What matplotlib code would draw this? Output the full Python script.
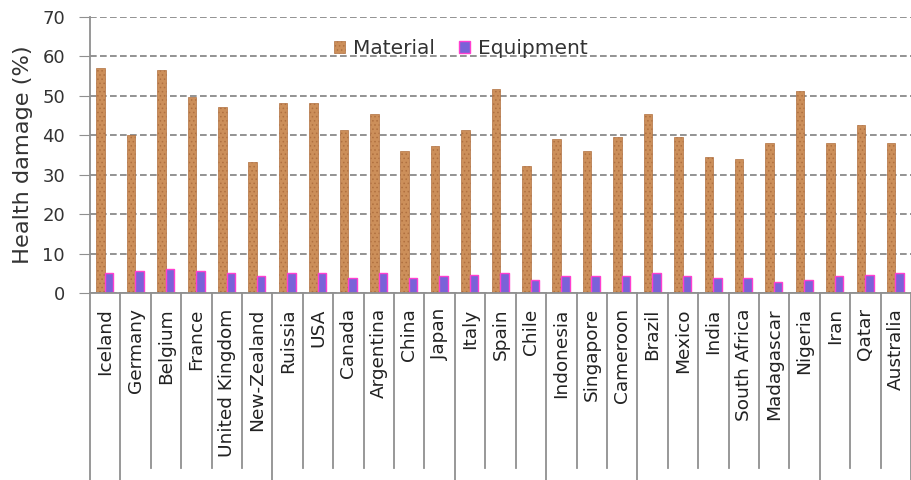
import numpy as np
import matplotlib.pyplot as plt
import matplotlib.transforms as mtransforms

countries = ["Iceland", "Germany", "Belgium", "France", "United Kingdom", "New-Zealand",
             "Ruissia", "USA", "Canada", "Argentina", "China", "Japan", "Italy", "Spain",
             "Chile", "Indonesia", "Singapore", "Cameroon", "Brazil", "Mexico", "India",
             "South Africa", "Madagascar", "Nigeria", "Iran", "Qatar", "Australia"]
material = [57.0, 40.0, 56.6, 49.7, 47.2, 33.2, 48.2, 48.1, 41.3, 45.4, 35.9, 37.2, 41.3,
            51.7, 32.2, 39.0, 35.9, 39.6, 45.3, 39.6, 34.5, 34.1, 38.1, 51.2, 38.0, 42.6, 38.0]
equipment = [5.1, 5.6, 6.1, 5.6, 5.1, 4.2, 5.1, 5.1, 3.7, 5.1, 3.7, 4.2, 4.6,
             5.1, 3.2, 4.2, 4.2, 4.2, 5.1, 4.2, 3.7, 3.7, 2.7, 3.2, 4.2, 4.6, 5.1]
# boundaries where the separator line runs down further (group breaks)
group_breaks = [0, 1, 6, 12, 15, 18, 24, 27]

plt.rcParams["hatch.linewidth"] = 0.6
fig = plt.figure(figsize=(9.11, 4.8), dpi=100)
ax = fig.add_axes([0.0988, 0.3896, 0.9012, 0.575])

x = np.arange(len(countries))
w = 0.28
ax.bar(x - 0.15, material, w, color="#cc8f5a", edgecolor="#b07040", linewidth=0.5,
       hatch="....", label="Material")
ax.bar(x + 0.13, equipment, w, color="#7a62d8", edgecolor="#ff3fd0", linewidth=1.0,
       label="Equipment")

ax.set_xlim(-0.5, len(countries) - 0.5)
ax.set_ylim(0, 70)
ax.set_yticks(range(0, 71, 10))
ax.yaxis.grid(True, linestyle=(0, (4, 2)), color="#808080", linewidth=1.2)
ax.set_axisbelow(True)
for s in ["top", "right"]:
    ax.spines[s].set_visible(False)
for s in ["left", "bottom"]:
    ax.spines[s].set_color("#909090")
    ax.spines[s].set_linewidth(1.3)
ax.tick_params(axis="y", direction="out", length=8, color="#909090", labelsize=13,
               labelcolor="#333333", pad=10)
ax.set_xticks(x)
ax.set_xticklabels(countries, rotation=90, fontsize=13.3, color="#222222")
ax.tick_params(axis="x", length=0, pad=11)
ax.set_ylabel("Health damage (%)", fontsize=16.2, color="#333333", labelpad=7)

# category separator lines below the axis
trans = mtransforms.blended_transform_factory(ax.transData, ax.transAxes)
for i in range(len(countries) + 1):
    xb = i - 0.5
    y_end = -0.75 if i in group_breaks else -0.634
    ax.plot([xb, xb], [0, y_end], transform=trans, color="#909090", linewidth=1.3,
            clip_on=False)

ax.legend(loc="upper center", bbox_to_anchor=(0.452, 0.985), ncol=2, frameon=False,
          fontsize=14.5, handlelength=0.55, handleheight=0.55, handletextpad=0.4,
          columnspacing=1.2, labelcolor="#333333")

fig.savefig("out.png", dpi=100)
